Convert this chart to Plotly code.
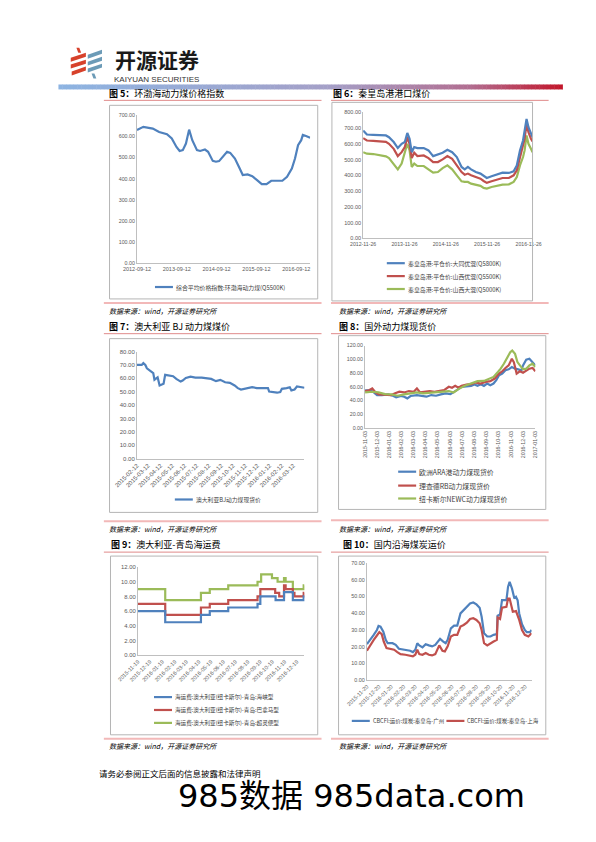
import plotly.graph_objects as go

W, H = 596, 842
OFF = 8  # the page body adds an 8px margin; compensate so positions match the page pixels
CJK = "Noto Sans CJK SC"
LAT = "Liberation Sans"
BLUE, RED, GREEN = "#4F81BD", "#C0504D", "#9BBB59"

# ---------------- Fig 5: BSPI ----------------
bspi_dates = ['2012-09-12', '2012-11-09', '2013-02-04', '2013-04-03', '2013-06-14', '2013-07-28',
              '2013-09-09', '2013-10-08', '2013-11-06', '2013-12-05', '2014-01-03', '2014-02-01',
              '2014-03-16', '2014-04-14', '2014-05-28', '2014-06-26', '2014-08-08', '2014-09-06',
              '2014-10-05', '2014-11-18', '2014-12-17', '2015-01-15', '2015-02-27', '2015-04-12',
              '2015-05-10', '2015-06-23', '2015-08-05', '2015-09-18', '2015-10-31', '2015-12-14',
              '2016-01-26', '2016-03-10', '2016-05-07', '2016-06-19', '2016-08-02', '2016-08-31',
              '2016-09-28', '2016-10-27', '2016-11-11', '2016-12-10', '2017-01-17']
bspi_values = [630, 645, 637, 621, 610, 590, 550, 531, 535, 566, 632, 582, 535, 531, 538, 527, 484, 480,
               483, 511, 527, 522, 495, 448, 417, 420, 412, 393, 374, 374, 390, 390, 390, 409, 448, 495,
               558, 582, 607, 602, 594]
c5_ticks = ['2012-09-12', '2013-09-12', '2014-09-12', '2015-09-12', '2016-09-12']

# ---------------- Fig 6: Qinhuangdao port prices ----------------
qhd_dates = ['2012-11-26', '2012-12-29', '2013-02-23', '2013-05-18', '2013-06-15', '2013-07-12',
             '2013-08-23', '2013-09-28', '2013-11-01', '2013-11-29', '2013-12-21', '2014-01-10',
             '2014-01-29', '2014-02-20', '2014-03-20', '2014-05-15', '2014-06-26', '2014-08-06',
             '2014-09-17', '2014-10-29', '2014-12-10', '2015-01-21', '2015-03-03', '2015-04-14',
             '2015-05-12', '2015-06-09', '2015-07-07', '2015-08-18', '2015-09-28', '2015-10-26',
             '2015-11-23', '2016-01-04', '2016-02-15', '2016-04-10', '2016-06-05', '2016-07-17',
             '2016-08-14', '2016-09-11', '2016-10-08', '2016-10-22', '2016-11-08', '2016-11-25',
             '2016-12-17', '2016-12-31']
qhd_datong = [684, 659, 657, 657, 653, 642, 611, 573, 600, 611, 669, 632, 547, 579, 573, 573, 558, 522,
              531, 543, 562, 547, 516, 453, 438, 453, 438, 421, 411, 396, 383, 394, 404, 417, 415, 425,
              463, 558, 621, 674, 758, 705, 663, 642]
qhd_shanxi_you = [636, 621, 619, 617, 612, 600, 568, 522, 547, 579, 642, 600, 509, 543, 522, 526, 509,
                  484, 484, 501, 522, 505, 467, 421, 404, 411, 400, 389, 379, 364, 352, 362, 373, 383,
                  383, 400, 432, 516, 579, 632, 726, 674, 632, 615]
qhd_shanxi_da = [547, 537, 535, 526, 520, 509, 474, 438, 474, 537, 600, 558, 453, 474, 459, 459, 438,
                 417, 421, 446, 463, 438, 400, 362, 358, 358, 347, 341, 333, 320, 316, 326, 333, 341,
                 343, 358, 389, 463, 516, 558, 653, 600, 568, 547]
c6_ticks = ['2012-11-26', '2013-11-26', '2014-11-26', '2015-11-26', '2016-11-26']

# ---------------- Fig 7: Australia BJ ----------------
bj_dates = ['2015-02-12', '2015-02-24', '2015-02-28', '2015-03-05', '2015-03-09', '2015-03-17',
            '2015-03-25', '2015-03-28', '2015-04-05', '2015-04-10', '2015-04-15', '2015-04-20',
            '2015-04-24', '2015-05-02', '2015-05-14', '2015-05-22', '2015-06-02', '2015-06-07',
            '2015-06-15', '2015-06-27', '2015-07-09', '2015-07-25', '2015-08-06', '2015-08-18',
            '2015-08-30', '2015-09-10', '2015-09-22', '2015-10-04', '2015-10-16', '2015-10-24',
            '2015-11-01', '2015-11-09', '2015-11-21', '2015-11-29', '2015-12-11', '2015-12-27',
            '2016-01-08', '2016-01-11', '2016-01-23', '2016-01-31', '2016-02-08', '2016-02-12',
            '2016-02-24', '2016-03-03', '2016-03-07', '2016-03-15', '2016-03-21', '2016-03-31',
            '2016-04-09']
bj_values = [70.0, 70.0, 71.4, 70.0, 67.5, 65.8, 64.0, 59.0, 60.8, 54.7, 55.2, 56.0, 62.6, 62.0, 61.6,
             59.6, 57.6, 58.4, 60.3, 61.3, 60.6, 60.6, 60.3, 59.6, 57.9, 58.9, 57.1, 56.7, 54.7, 52.7,
             51.7, 52.2, 52.7, 53.4, 52.7, 52.7, 52.7, 50.2, 49.8, 49.3, 49.8, 52.2, 52.7, 53.4, 51.0,
             51.7, 53.9, 53.4, 53.0]
c7_ticks = ['2015-02-12', '2015-03-12', '2015-04-12', '2015-05-12', '2015-06-12', '2015-07-12',
            '2015-08-12', '2015-09-12', '2015-10-12', '2015-11-12', '2015-12-12', '2016-01-12',
            '2016-02-12', '2016-03-12']

# ---------------- Fig 8: international spot prices ----------------
ara_dates = ['2015-11-03', '2015-11-17', '2015-11-25', '2015-12-03', '2015-12-15', '2015-12-31',
             '2016-01-12', '2016-01-20', '2016-02-01', '2016-02-09', '2016-02-17', '2016-02-25',
             '2016-03-12', '2016-03-24', '2016-04-05', '2016-04-17', '2016-04-29', '2016-05-11',
             '2016-05-23', '2016-06-04', '2016-06-12', '2016-06-20', '2016-07-02', '2016-07-14',
             '2016-07-26', '2016-08-03', '2016-08-11', '2016-08-19', '2016-08-27', '2016-09-04',
             '2016-09-12', '2016-09-20', '2016-09-27', '2016-10-04', '2016-10-12', '2016-10-20',
             '2016-10-28', '2016-11-05', '2016-11-13', '2016-11-21', '2016-11-29', '2016-12-03',
             '2016-12-11', '2016-12-19', '2016-12-27', '2017-01-03']
ara_values = [55, 55, 52, 48, 48, 49, 47, 44.6, 46.6, 45.6, 43.2, 46.6, 48, 46.6, 45.6, 48, 47, 49,
              50.4, 49.4, 51.8, 55.2, 60, 61, 61.4, 63.4, 61.4, 63.8, 61.4, 64.8, 62.4, 64.8, 69.6,
              76.8, 79.2, 84, 85.4, 88.8, 86.4, 85.4, 84, 91.2, 99.4, 100.8, 96, 91.2]
rb_dates = ['2015-11-03', '2015-11-13', '2015-11-21', '2015-11-29', '2015-12-07', '2015-12-23',
            '2016-01-08', '2016-01-16', '2016-01-28', '2016-02-09', '2016-02-21', '2016-03-04',
            '2016-03-12', '2016-03-20', '2016-04-01', '2016-04-13', '2016-04-25', '2016-05-07',
            '2016-05-19', '2016-05-31', '2016-06-08', '2016-06-16', '2016-06-24', '2016-07-02',
            '2016-07-14', '2016-07-26', '2016-08-07', '2016-08-19', '2016-08-31', '2016-09-12',
            '2016-09-23', '2016-10-04', '2016-10-12', '2016-10-20', '2016-10-28', '2016-11-05',
            '2016-11-10', '2016-11-17', '2016-11-25', '2016-12-03', '2016-12-11', '2016-12-19',
            '2016-12-27', '2017-01-03']
rb_values = [53.8, 55, 57.6, 52, 49, 49, 48, 50.4, 52.8, 51.8, 53.8, 52.8, 57.6, 51.8, 52.8, 53.8,
             52.8, 53.8, 55.2, 60, 58.6, 61.4, 58.6, 61.4, 63.4, 63.8, 66.2, 64.8, 67.2, 68.2, 72,
             79.2, 82.6, 87.4, 91.2, 100.8, 96, 79.2, 82.6, 80.6, 84, 86.4, 87.4, 82.6]
newc_dates = ['2015-11-03', '2015-11-21', '2015-12-07', '2015-12-23', '2016-01-08', '2016-01-24',
              '2016-02-09', '2016-02-25', '2016-03-12', '2016-03-28', '2016-04-13', '2016-04-29',
              '2016-05-15', '2016-05-31', '2016-06-12', '2016-06-24', '2016-07-10', '2016-07-26',
              '2016-08-11', '2016-08-27', '2016-09-08', '2016-09-20', '2016-10-01', '2016-10-08',
              '2016-10-16', '2016-10-24', '2016-11-01', '2016-11-06', '2016-11-13', '2016-11-19',
              '2016-11-25', '2016-12-03', '2016-12-11', '2016-12-19', '2016-12-27', '2017-01-03']
newc_values = [51.8, 52.8, 51.8, 49.4, 49, 47, 49, 50.4, 51.8, 50.4, 51.4, 52.8, 52.8, 53.8, 51.8,
               56.6, 61.4, 64.8, 68.2, 68.6, 72, 74.4, 81.6, 86.4, 93.6, 103.2, 110.4, 112.8, 108,
               96, 91.2, 85.4, 86.4, 91.2, 93.6, 88.8]
c8_ticks = ['2015-11-03', '2015-12-03', '2016-01-03', '2016-02-03', '2016-03-03', '2016-04-03',
            '2016-05-03', '2016-06-03', '2016-07-03', '2016-08-03', '2016-09-03', '2016-10-03',
            '2016-11-03', '2016-12-03', '2017-01-03']

# ---------------- Fig 9: Australia-Qingdao freight (step) ----------------
cape_dates = ['2015-11-19', '2016-01-26', '2016-04-24', '2016-05-16', '2016-07-01', '2016-09-12',
              '2016-09-19', '2016-10-27', '2016-11-17', '2016-12-09', '2017-01-05', '2017-01-07']
cape_values = [6.0, 4.5, 5.5, 6.0, 6.5, 7.0, 8.0, 7.5, 8.6, 7.5, 8.0, 8.0]
pana_dates = ['2015-11-19', '2016-01-26', '2016-04-24', '2016-05-16', '2016-07-01', '2016-09-12',
              '2016-09-19', '2016-10-26', '2016-11-05', '2016-11-17', '2016-11-21', '2016-12-09',
              '2016-12-13', '2017-01-05', '2017-01-07']
pana_values = [7.0, 5.5, 6.5, 7.0, 7.5, 8.0, 9.0, 8.5, 8.0, 9.5, 9.0, 8.5, 8.0, 8.5, 8.5]
supra_dates = ['2015-11-19', '2016-01-26', '2016-04-24', '2016-05-16', '2016-07-01', '2016-09-12',
               '2016-09-21', '2016-10-18', '2016-11-01', '2016-11-17', '2016-11-21', '2016-12-09',
               '2017-01-05', '2017-01-07']
supra_values = [9.0, 7.5, 8.5, 9.0, 9.5, 10.0, 11.0, 10.5, 10.0, 10.5, 10.0, 9.0, 9.5, 9.5]
c9_ticks = ['2015-11-19', '2015-12-19', '2016-01-19', '2016-02-19', '2016-03-19', '2016-04-19',
            '2016-05-19', '2016-06-19', '2016-07-19', '2016-08-19', '2016-09-19', '2016-10-19',
            '2016-11-19', '2016-12-19']

# ---------------- Fig 10: domestic coastal freight ----------------
gz_dates = ['2015-11-20', '2015-11-29', '2015-12-07', '2015-12-15', '2015-12-19', '2015-12-24',
            '2015-12-31', '2016-01-06', '2016-01-11', '2016-01-23', '2016-01-31', '2016-02-08',
            '2016-02-24', '2016-03-07', '2016-03-14', '2016-03-20', '2016-03-25', '2016-03-30',
            '2016-04-07', '2016-04-15', '2016-04-23', '2016-05-01', '2016-05-09', '2016-05-21',
            '2016-05-29', '2016-06-04', '2016-06-09', '2016-06-17', '2016-06-25', '2016-07-03',
            '2016-07-11', '2016-07-19', '2016-07-27', '2016-08-04', '2016-08-12', '2016-08-20',
            '2016-08-28', '2016-09-02', '2016-09-08', '2016-09-16', '2016-09-24', '2016-10-02',
            '2016-10-10', '2016-10-12', '2016-10-18', '2016-10-23', '2016-10-30', '2016-11-03',
            '2016-11-07', '2016-11-11', '2016-11-17', '2016-11-23', '2016-11-27', '2016-12-01',
            '2016-12-05', '2016-12-12', '2016-12-19', '2016-12-24', '2017-01-01', '2017-01-05']
gz_values = [21.5, 24.1, 27.1, 30, 32.4, 32, 29, 24.1, 22.1, 22.1, 21.1, 18.8, 18.2, 17.6, 16.8, 18.2,
             22.1, 20.8, 19.6, 21.5, 20.8, 20.2, 21.1, 24.7, 23.1, 22.1, 24.1, 31, 32.6, 32.6, 39.9,
             41.9, 43.3, 45.8, 46.4, 45.3, 43.3, 37.9, 28.1, 26.1, 26.1, 27.1, 27.5, 38.5, 39.3, 47.8,
             47.8, 47.8, 55.7, 58.7, 54.7, 48.8, 49.8, 47.8, 39.9, 33.4, 30, 28.7, 28.7, 30]
sh_dates = ['2015-11-20', '2015-11-29', '2015-12-07', '2015-12-15', '2015-12-21', '2015-12-27',
            '2016-01-01', '2016-01-08', '2016-01-15', '2016-01-27', '2016-02-04', '2016-02-12',
            '2016-02-24', '2016-03-07', '2016-03-14', '2016-03-20', '2016-03-25', '2016-03-30',
            '2016-04-07', '2016-04-15', '2016-04-23', '2016-05-01', '2016-05-09', '2016-05-19',
            '2016-05-27', '2016-06-02', '2016-06-09', '2016-06-17', '2016-06-25', '2016-07-03',
            '2016-07-11', '2016-07-19', '2016-07-27', '2016-08-04', '2016-08-12', '2016-08-20',
            '2016-08-28', '2016-09-02', '2016-09-08', '2016-09-16', '2016-09-24', '2016-10-02',
            '2016-10-10', '2016-10-12', '2016-10-18', '2016-10-23', '2016-11-03', '2016-11-07',
            '2016-11-11', '2016-11-19', '2016-11-27', '2016-12-05', '2016-12-12', '2016-12-19',
            '2016-12-28', '2017-01-05']
sh_values = [17.6, 21.5, 24.1, 26.7, 28.7, 27.5, 23.1, 19.2, 18.8, 18.2, 16.8, 15.6, 15.2, 14.6, 14.2,
             15.2, 18.2, 15.6, 15.2, 16.2, 15.2, 14.8, 15.6, 20.8, 17.6, 17.2, 20.2, 26.1, 27.1, 27.1,
             32, 33, 34.4, 36.6, 37, 36, 34, 30, 22.1, 20.8, 22.1, 23.1, 24.1, 37.4, 36.6, 43.3, 43.9,
             48.8, 48.8, 40.9, 41.3, 36, 30, 27.1, 26.1, 28.1]
c10_ticks = ['2015-11-20', '2015-12-20', '2016-01-20', '2016-02-20', '2016-03-20', '2016-04-20',
             '2016-05-20', '2016-06-20', '2016-07-20', '2016-08-20', '2016-09-20', '2016-10-20',
             '2016-11-20', '2016-12-20']

# ---------------- figure ----------------
fig = go.Figure()


def px(x):
    return (x - OFF) / W


def py(y):
    return 1 - (y - OFF) / H


def hline(x0, x1, y, color, width):
    fig.add_shape(type="line", xref="paper", yref="paper", x0=px(x0), x1=px(x1), y0=py(y), y1=py(y),
                  line=dict(color=color, width=width))


def box(x0, y0, x1, y1, color="#b5b5b5"):
    fig.add_shape(type="rect", xref="paper", yref="paper", x0=px(x0), x1=px(x1), y0=py(y1), y1=py(y0),
                  line=dict(color=color, width=1), fillcolor="rgba(0,0,0,0)")


def text(x, y, s, size, color="#000000", family=CJK, xanchor="left"):
    fig.add_annotation(x=px(x), y=py(y), xref="paper", yref="paper", text=s, showarrow=False,
                       xanchor=xanchor, yanchor="middle", font=dict(size=size, color=color, family=family))


def poly(points, color):
    path = "M " + " L ".join(f"{px(a):.5f},{py(b):.5f}" for a, b in points) + " Z"
    fig.add_shape(type="path", xref="paper", yref="paper", path=path, fillcolor=color,
                  line=dict(width=0))


def tf(size):
    return dict(family=LAT, size=size, color="#595959")


# chart specs: plot area in page px (x0, x1, ytop, ybottom)
charts = [
    dict(plot=(120, 303, 113, 262), xr=['2012-09-12', '2017-01-17'], ticks=c5_ticks, angle=0, yr=700, dy=100,
         xf=5.5, yf=5.3),
    dict(plot=(359, 538, 110, 237), xr=['2012-11-26', '2016-12-31'], ticks=c6_ticks, angle=0, yr=800, dy=100,
         xf=5.2, yf=5.5),
    dict(plot=(120, 297, 351, 459), xr=['2015-02-12', '2016-04-09'], ticks=c7_ticks, angle=-45, yr=80, dy=10,
         xf=6, yf=6),
    dict(plot=(361, 541, 345, 428), xr=['2015-11-03', '2017-01-03'], ticks=c8_ticks, angle=-90, yr=120, dy=20,
         xf=5.3, yf=5.3),
    dict(plot=(121, 297, 568, 657), xr=['2015-11-19', '2017-01-07'], ticks=c9_ticks, angle=-45, yr=12, dy=2,
         xf=5.5, yf=5.9),
    dict(plot=(363, 537, 564, 682), xr=['2015-11-20', '2017-01-05'], ticks=c10_ticks, angle=-45, yr=70, dy=10,
         xf=5.5, yf=5.4),
]

axes = {}
for i, c in enumerate(charts):
    n = "" if i == 0 else str(i + 1)
    x0, x1, yt, yb = c["plot"]
    axes["xaxis" + n] = dict(domain=[px(x0), px(x1)], anchor="y" + n, type="date", range=c["xr"],
                             tickmode="array", tickvals=c["ticks"], ticktext=c["ticks"],
                             tickangle=c["angle"], showline=True, linecolor="#bfbfbf", linewidth=1,
                             showgrid=False, zeroline=False, ticks="", tickfont=tf(c["xf"]), fixedrange=True)
    axes["yaxis" + n] = dict(domain=[py(yb), py(yt)], anchor="x" + n, range=[0, c["yr"]], tick0=0,
                             dtick=c["dy"], tickformat=".2f", showline=True, linecolor="#bfbfbf",
                             linewidth=1, showgrid=False, zeroline=False, ticks="", tickfont=tf(c["yf"]),
                             fixedrange=True)


def add(x, y, name, color, n, shape="linear", width=2.2):
    fig.add_trace(go.Scatter(x=x, y=y, name=name, mode="lines", line=dict(color=color, width=width, shape=shape),
                             xaxis="x" + n, yaxis="y" + n, showlegend=False, hoverinfo="skip"))


add(bspi_dates, bspi_values, "综合平均价格指数:环渤海动力煤(Q5500K)", BLUE, "")
add(qhd_dates, qhd_shanxi_da, "秦皇岛港:平仓价:山西大混(Q5000K)", GREEN, "2")
add(qhd_dates, qhd_shanxi_you, "秦皇岛港:平仓价:山西优混(Q5500K)", RED, "2")
add(qhd_dates, qhd_datong, "秦皇岛港:平仓价:大同优混(Q5800K)", BLUE, "2")
add(bj_dates, bj_values, "澳大利亚BJ动力煤现货价", BLUE, "3")
add(ara_dates, ara_values, "欧洲ARA港动力煤现货价", BLUE, "4")
add(rb_dates, rb_values, "理查德RB动力煤现货价", RED, "4")
add(newc_dates, newc_values, "纽卡斯尔NEWC动力煤现货价", GREEN, "4")
add(supra_dates, supra_values, "海运费:澳大利亚(纽卡斯尔)-青岛:超灵便型", GREEN, "5", shape="hv")
add(pana_dates, pana_values, "海运费:澳大利亚(纽卡斯尔)-青岛:巴拿马型", RED, "5", shape="hv")
add(cape_dates, cape_values, "海运费:澳大利亚(纽卡斯尔)-青岛:海峡型", BLUE, "5", shape="hv")
add(gz_dates, gz_values, "CBCFI:运价:煤炭:秦皇岛-广州", BLUE, "6")
add(sh_dates, sh_values, "CBCFI:运价:煤炭:秦皇岛-上海", RED, "6")

fig.update_layout(width=W, height=H, margin=dict(l=0, r=0, t=0, b=0), paper_bgcolor="white",
                  plot_bgcolor="rgba(0,0,0,0)", showlegend=False, hovermode=False, **axes)

# ---------------- page decoration ----------------
# gradient header bar
stops = [(37, (141, 180, 226)), (320, (165, 160, 200)), (470, (178, 110, 145)), (570, (195, 20, 40))]
step = 4
xx = 37
while xx < 570:
    for (a, ca), (b, cb) in zip(stops[:-1], stops[1:]):
        if a <= xx <= b:
            t = (xx - a) / (b - a)
            col = tuple(int(ca[k] + (cb[k] - ca[k]) * t) for k in range(3))
            break
    fig.add_shape(type="rect", xref="paper", yref="paper", x0=px(xx), x1=px(min(xx + step + 0.5, 570)),
                  y0=py(87), y1=py(82), line=dict(width=0), fillcolor="rgb(%d,%d,%d)" % col)
    xx += step

# logo symbol
LRED, LBLUE = "#d7412b", "#6c9bb7"
poly([(56, 45), (59, 45), (61, 50), (58, 50)], LRED)
poly([(50, 55), (66, 50), (66, 54), (50, 59)], LRED)
poly([(50, 62), (66, 57), (66, 61), (50, 66)], LRED)
poly([(51, 69), (66, 64), (66, 68), (51, 73)], LRED)
poly([(68, 52), (83, 47), (83, 51), (68, 56)], LBLUE)
poly([(68, 59), (83, 54), (83, 58), (68, 63)], LBLUE)
poly([(68, 66), (83, 61), (83, 65), (68, 70)], LBLUE)
poly([(72, 71), (75, 71), (77, 76), (74, 76)], LBLUE)
text(141, 56, "<b>开源证券</b>", 21, "#1a1a1a", CJK, "center")
text(141, 76.5, "KAIYUAN SECURITIES", 8, "#333333", LAT, "center")

# frames, rules, titles, sources
TRED, BRED = "#e08a8a", "#f2b8b8"
frames = [(91, 103, 311, 298), (326, 100, 538, 300), (91, 338, 311, 513), (333, 335, 552, 510),
          (92, 557, 311, 737), (333, 557, 552, 737)]
for f in frames:
    box(*f)
for (x0, x1, y) in [(85, 315, 98), (325, 555, 98), (85, 315, 333), (325, 555, 333), (85, 315, 553),
                    (325, 555, 553)]:
    hline(x0, x1, y, TRED, 1)
for (x0, x1, y) in [(85, 315, 302), (325, 555, 302), (85, 315, 522), (325, 555, 521), (85, 315, 741),
                    (325, 555, 741)]:
    hline(x0, x1, y, BRED, 2)

titles = [(88, 91, "图 5：", "环渤海动力煤价格指数"), (325, 91, "图 6：", "秦皇岛港港口煤价"),
          (88, 326, "图 7：", "澳大利亚 BJ 动力煤煤价"), (331, 326, "图 8：", "国外动力煤现货价"),
          (90, 545, "图 9：", "澳大利亚-青岛海运费"), (336, 545, "图 10：", "国内沿海煤炭运价")]
for x, y, a, b in titles:
    text(x, y, "<b>" + a + "</b>" + b, 9, "#000000")

for x, y in [(88, 310), (331, 310), (88, 530), (331, 530), (88, 748), (331, 748)]:
    text(x, y, "<i>数据来源：wind，开源证券研究所</i>", 7, "#000000")

# legends
LT = "#404040"


def legend_item(x0, y, name, color, size=6):
    hline(x0, x0 + 19, y, color, 2.2)
    text(x0 + 20, y, name, size, LT)


legend_item(139, 286, "综合平均价格指数:环渤海动力煤(Q5500K)", BLUE, 5.9)
legend_item(384, 262, "秦皇岛港:平仓价:大同优混(Q5800K)", BLUE, 5.9)
legend_item(384, 275, "秦皇岛港:平仓价:山西优混(Q5500K)", RED, 5.9)
legend_item(384, 288, "秦皇岛港:平仓价:山西大混(Q5000K)", GREEN, 5.9)
legend_item(160, 500, "澳大利亚BJ动力煤现货价", BLUE, 5.8)
legend_item(396, 472, "欧洲ARA港动力煤现货价", BLUE, 6.9)
legend_item(396, 486, "理查德RB动力煤现货价", RED, 6.9)
legend_item(396, 499, "纽卡斯尔NEWC动力煤现货价", GREEN, 6.9)
legend_item(138, 699, "海运费:澳大利亚(纽卡斯尔)-青岛:海峡型", BLUE, 5.6)
legend_item(138, 712, "海运费:澳大利亚(纽卡斯尔)-青岛:巴拿马型", RED, 5.6)
legend_item(138, 725, "海运费:澳大利亚(纽卡斯尔)-青岛:超灵便型", GREEN, 5.6)
legend_item(347, 723, "CBCFI:运价:煤炭:秦皇岛-广州", BLUE, 5.5)
legend_item(447, 723, "CBCFI:运价:煤炭:秦皇岛-上海", RED, 5.5)

# footer
text(78, 775, "请务必参阅正文后面的信息披露和法律声明", 8.5, "#000000")
text(161, 799, "985数据 985data.com", 32, "#000000", "DejaVu Sans, Noto Sans CJK SC")

fig.write_html("out.html")
